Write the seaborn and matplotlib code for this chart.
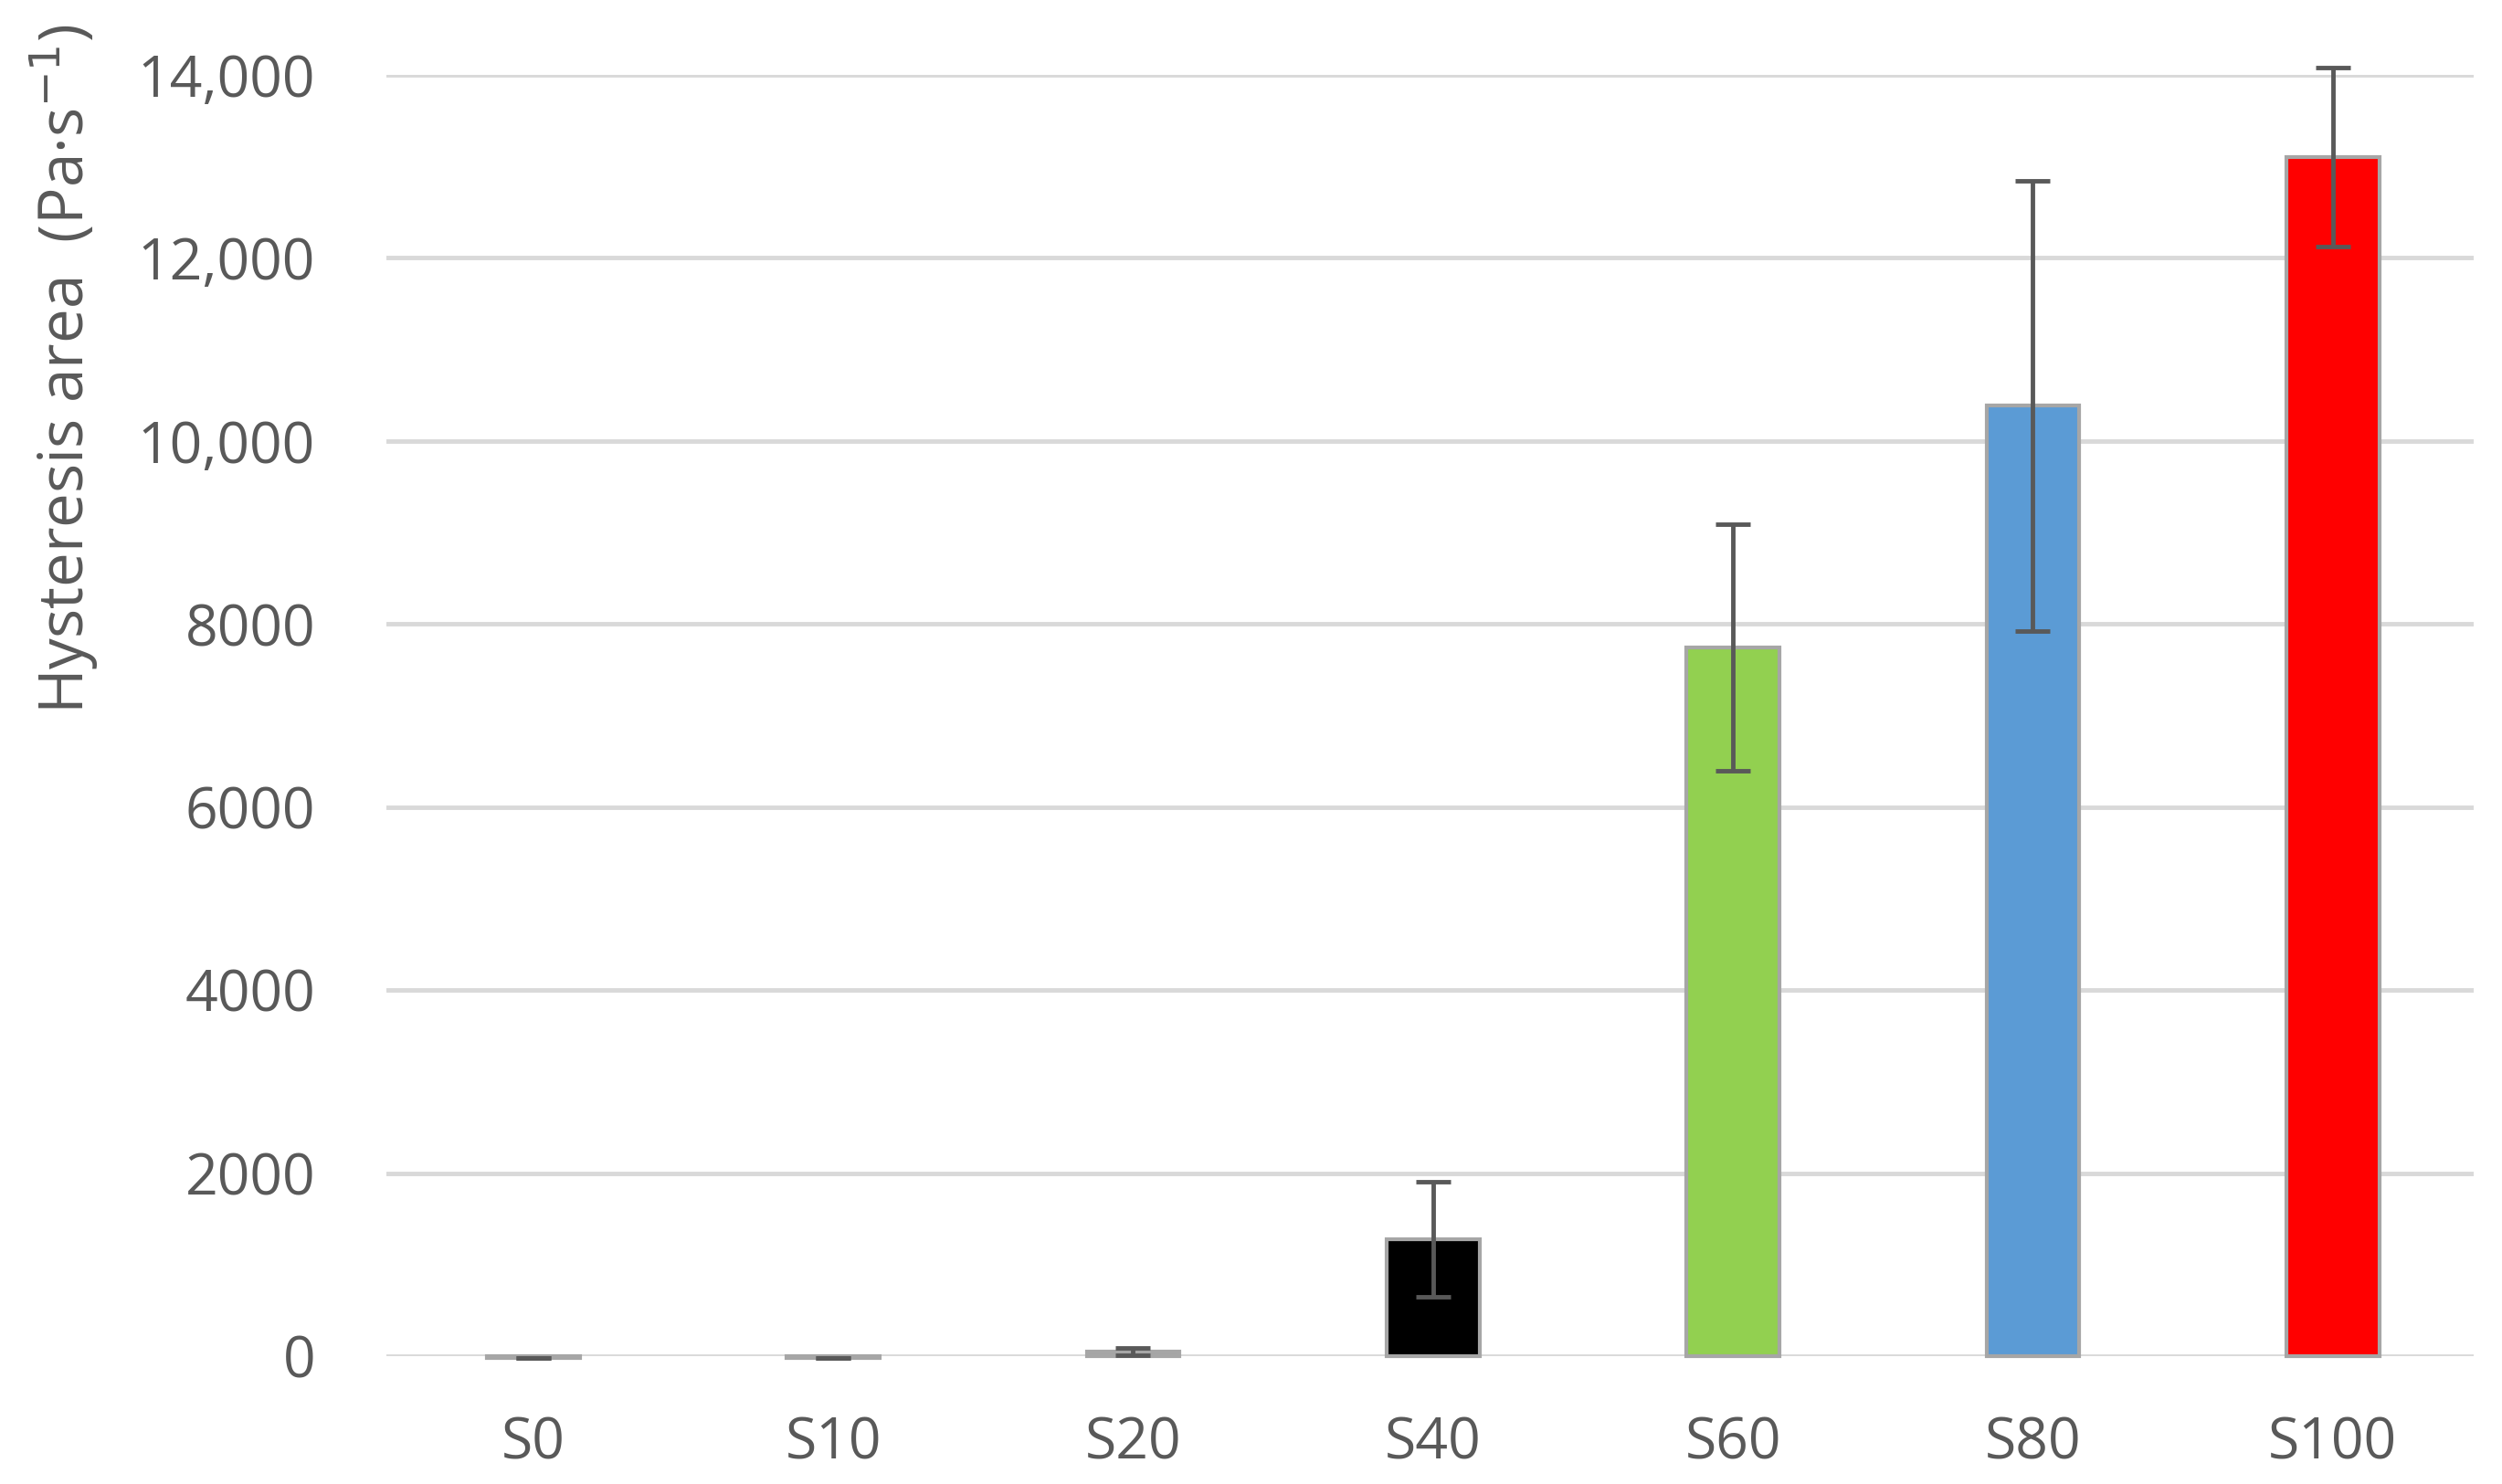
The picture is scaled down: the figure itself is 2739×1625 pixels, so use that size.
import matplotlib
matplotlib.use("Agg")
import matplotlib.pyplot as plt
import seaborn as sns
import pandas as pd
from matplotlib.ticker import FixedLocator

categories = ["S0", "S10", "S20", "S40", "S60", "S80", "S100"]
values = [-20, -20, 50, 1275, 7745, 10385, 13100]
errors = [0, 0, 40, 630, 1350, 2460, 980]
bar_colors = ["#5B9BD5", "#5B9BD5", "#A5A5A5", "#000000", "#92D050", "#5B9BD5", "#FF0000"]
yticks = [0, 2000, 4000, 6000, 8000, 10000, 12000, 14000]
ytick_labels = ["0", "2000", "4000", "6000", "8000", "10,000", "12,000", "14,000"]

df = pd.DataFrame({"cat": categories, "val": values})

sns.set_theme(style="white")
plt.rcParams['font.family'] = ['Open Sans', 'DejaVu Sans']

fig = plt.figure(figsize=(27.39, 16.25), dpi=100)
ax = fig.add_axes([0.1544, 0.0862, 0.8343, 0.8633])

sns.barplot(data=df, x="cat", y="val", hue="cat", palette=bar_colors,
            legend=False, errorbar=None, width=0.31, saturation=1, ax=ax,
            edgecolor="#A6A6A6", linewidth=3, zorder=3)
for p in ax.patches:
    p.set_clip_on(False)

xs = ax.get_xticks()
ax.errorbar(xs, values, yerr=errors, fmt="none", ecolor="#595959",
            elinewidth=3.5, capsize=13.5, capthick=3.5, zorder=4, clip_on=False)

ax.set_ylim(0, 14000)
ax.set_xlim(-0.49, 6.47)
ax.yaxis.set_major_locator(FixedLocator(yticks))
ax.set_yticklabels(ytick_labels)
ax.grid(axis="y", color="#D9D9D9", linewidth=3.5, zorder=0)
ax.set_axisbelow(True)
for s in ax.spines.values():
    s.set_visible(False)
ax.tick_params(axis="both", length=0, labelsize=45, colors="#595959")
ax.tick_params(axis="y", pad=56)
ax.tick_params(axis="x", pad=47)
ax.set_xlabel("")
ax.set_ylabel("")
fig.text(0.0105, 0.984, "Hysteresis area  (Pa·s$^{-1}$)", rotation=90,
         ha="left", va="top", fontsize=48.5, color="#595959")

fig.savefig("out.png", dpi=100, facecolor="white")
